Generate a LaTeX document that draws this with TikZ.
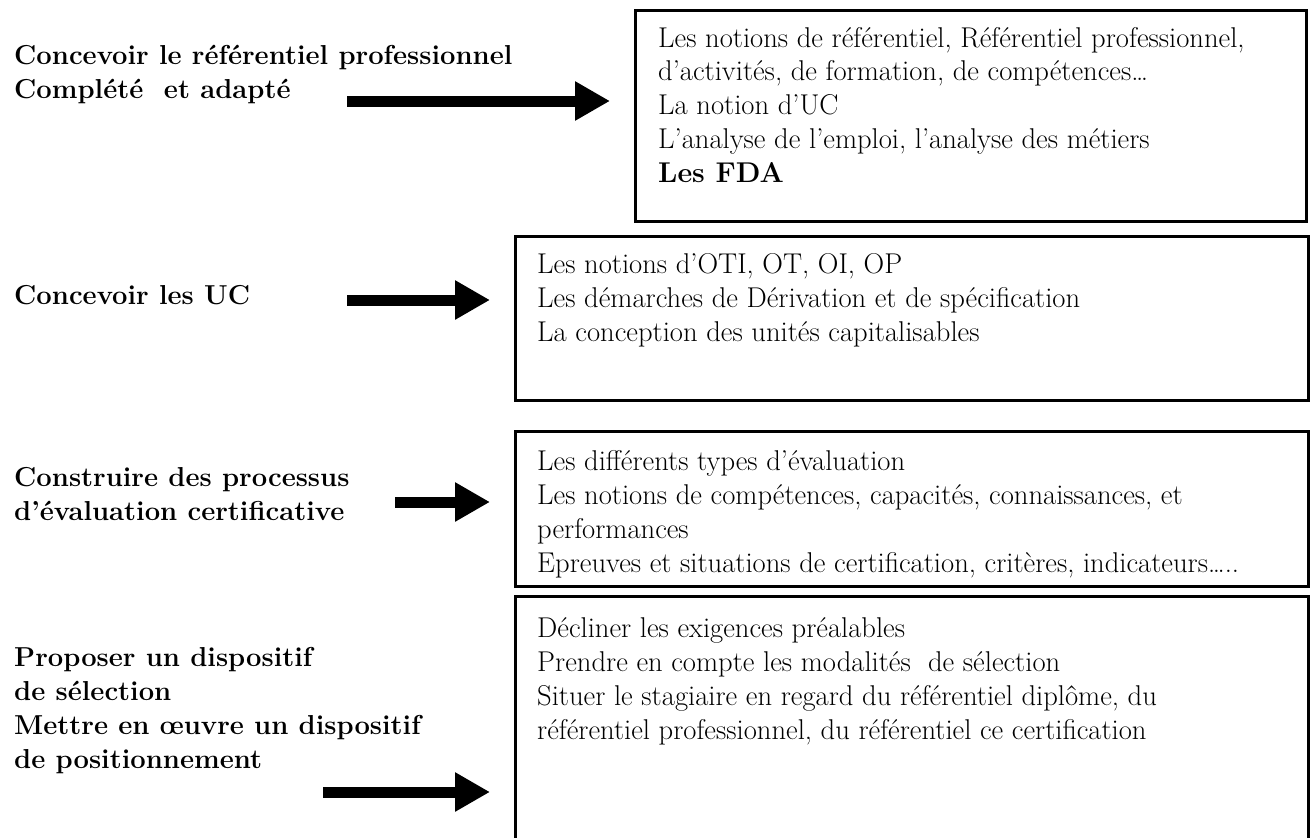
\documentclass[tikz,border=0pt]{standalone}
\usepackage{fontspec}
\usepackage{tikz}
\usetikzlibrary{arrows.meta,positioning}

\begin{document}
\begin{tikzpicture}[x=1pt,y=-1pt,
  lab/.style={anchor=base west, inner sep=0pt, align=left,
    font=\fontsize{27.4}{33.7}\selectfont\bfseries},
  txt/.style={anchor=base west, inner sep=0pt, align=left,
    font=\fontsize{28.6}{33.7}\selectfont},
  box/.style={draw, line width=2.5pt, anchor=north west, inner sep=0pt},
  fat/.style={line width=11pt, shorten >=24pt,
    -{Triangle[length=35pt,width=37pt]}}]
\useasboundingbox (0,0) rectangle (1312,838);
% left column (anchored on the last baseline)
\node[lab] (l1) at (14,98) {Concevoir le référentiel professionnel\\
  Complété\ \ et adapté};
\node[lab] (l2) at (14,304) {Concevoir les UC};
\node[lab] (l3) at (14,520) {Construire des processus\\
  d’évaluation certificative};
\node[lab] (l4) at (14,768) {Proposer un dispositif\\ de sélection\\
  Mettre en œuvre un dispositif\\ de positionnement};
% boxes
\node[box, minimum width=671pt, minimum height=211pt] (b1) at (634,9) {};
\node[box, minimum width=793pt, minimum height=164pt] (b2) at (514,235) {};
\node[box, minimum width=793pt, minimum height=155pt] (b3) at (514,430) {};
\node[box, minimum width=793pt, minimum height=270pt] (b4) at (514,595) {};
\node[txt] (t1) at (658,182) {Les notions de référentiel, Référentiel professionnel,\\
  d’activités, de formation, de compétences…\\ La notion d’UC\\
  L’analyse de l’emploi, l’analyse des métiers\\ \textbf{Les FDA}};
\node[txt] (t2) at (537,341) {Les notions d’OTI, OT, OI, OP\\
  Les démarches de Dérivation et de spécification\\
  La conception des unités capitalisables};
\node[txt] (t3) at (537,572) {Les différents types d’évaluation\\
  Les notions de compétences, capacités, connaissances, et\\ performances\\
  Epreuves et situations de certification, critères, indicateurs…..};
\node[txt] (t4) at (537,739) {Décliner les exigences préalables\\
  Prendre en compte les modalités\ \ de sélection\\
  Situer le stagiaire en regard du référentiel diplôme, du\\
  référentiel professionnel, du référentiel ce certification};
% arrows
\coordinate (a1) at (347,101);
\coordinate (a2) at (347,300);
\coordinate (a3) at (395,502);
\coordinate (a4) at (323,792);
\draw[fat] (a1) -- (b1.west |- a1);
\draw[fat] (a2) -- (b2.west |- a2);
\draw[fat] (a3) -- (b3.west |- a3);
\draw[fat] (a4) -- (b4.west |- a4);
\end{tikzpicture}
\end{document}
